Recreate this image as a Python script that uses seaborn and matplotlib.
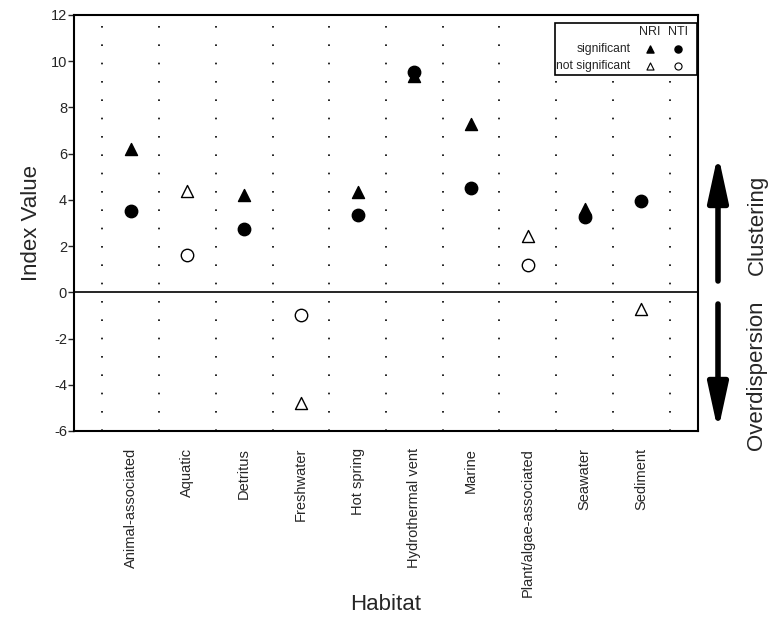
import matplotlib
matplotlib.use("Agg")
import matplotlib.pyplot as plt
import seaborn as sns
import pandas as pd
import numpy as np

habitats = ["Animal-associated", "Aquatic", "Detritus", "Freshwater", "Hot spring",
            "Hydrothermal vent", "Marine", "Plant/algae-associated", "Seawater", "Sediment"]
nri = [6.2, 4.4, 4.2, -4.8, 4.35, 9.35, 7.3, 2.45, 3.6, -0.7]
nri_sig = [True, False, True, False, True, True, True, False, True, False]
nti = [3.5, 1.6, 2.75, -1.0, 3.35, 9.55, 4.5, 1.2, 3.25, 3.95]
nti_sig = [True, False, True, False, True, True, True, False, True, True]

sns.set_style("white")
plt.rcParams['font.family'] = ['Liberation Sans', 'DejaVu Sans']
plt.rcParams['axes.unicode_minus'] = False

rows = []
for i, h in enumerate(habitats):
	rows.append([h, i, "NRI", nri[i], nri_sig[i]])
	rows.append([h, i, "NTI", nti[i], nti_sig[i]])
data = pd.DataFrame(data=rows, columns=["habitat", "pos", "index", "value", "sig"])

fig = plt.figure(figsize=(7.75, 6.24), dpi=100)
ax = fig.add_axes([0.0955, 0.3093, 0.8051, 0.6667])

# dotted separators and zero line
for x in np.arange(-0.5, len(habitats), 1.0):
	ax.axvline(x, color="black", lw=1.2, linestyle=(0, (1, 10)), zorder=1)
ax.axhline(0, color="black", lw=1.2, zorder=1)

markers = {"NRI": "^", "NTI": "o"}
sizes = {"NRI": 75, "NTI": 80}
for idx in ["NRI", "NTI"]:
	for sig in [True, False]:
		sub = data[(data["index"] == idx) & (data["sig"] == sig)]
		sns.scatterplot(data=sub, x="pos", y="value", ax=ax, marker=markers[idx],
			s=sizes[idx], color="black" if sig else "white", edgecolor="black",
			linewidth=1.0, zorder=3, legend=False)

ax.set_xlim(-1, len(habitats))
ax.set_ylim(-6, 12)
ax.set_yticks(range(-6, 13, 2))
ax.set_xticks(range(len(habitats)))
ax.set_xticklabels(habitats, rotation=90, fontsize=10.5)
ax.tick_params(axis="x", length=0, pad=12)
ax.tick_params(axis="y", length=4, width=1, direction="out", left=True, labelsize=10.5, pad=1)
ax.set_xlabel("Habitat", fontsize=16, labelpad=-2)
ax.set_ylabel("Index Value", fontsize=16, labelpad=6)
for sp in ax.spines.values():
	sp.set_color("black")
	sp.set_linewidth(1.5)

# custom legend table
lg = plt.Rectangle((0.771, 0.856), 0.227, 0.125, transform=ax.transAxes,
	facecolor="white", edgecolor="black", lw=1.2, zorder=4)
ax.add_patch(lg)
ax.text(0.923, 0.959, "NRI", transform=ax.transAxes, ha="center", va="center", fontsize=9, zorder=5)
ax.text(0.968, 0.959, "NTI", transform=ax.transAxes, ha="center", va="center", fontsize=9, zorder=5)
ax.text(0.892, 0.918, "significant", transform=ax.transAxes, ha="right", va="center", fontsize=8.7, zorder=5)
ax.text(0.892, 0.877, "not significant", transform=ax.transAxes, ha="right", va="center", fontsize=8.7, zorder=5)
ax.scatter([0.923], [0.918], transform=ax.transAxes, marker="^", s=26, color="black", zorder=5)
ax.scatter([0.968], [0.918], transform=ax.transAxes, marker="o", s=26, color="black", zorder=5)
ax.scatter([0.923], [0.877], transform=ax.transAxes, marker="^", s=26, facecolor="white", edgecolor="black", lw=0.8, zorder=5)
ax.scatter([0.968], [0.877], transform=ax.transAxes, marker="o", s=26, facecolor="white", edgecolor="black", lw=0.8, zorder=5)

# clustering / overdispersion arrows
arrow_kw = dict(arrowstyle="-|>,head_length=2.3,head_width=0.5", color="black", lw=4)
fig.patches.append(matplotlib.patches.FancyArrowPatch((718 / 775, 1 - 281 / 624), (718 / 775, 1 - 154 / 624),
	transform=fig.transFigure, mutation_scale=12, shrinkA=0, shrinkB=0, **arrow_kw))
fig.patches.append(matplotlib.patches.FancyArrowPatch((718 / 775, 1 - 304 / 624), (718 / 775, 1 - 431 / 624),
	transform=fig.transFigure, mutation_scale=12, shrinkA=0, shrinkB=0, **arrow_kw))
fig.text(757 / 775, 1 - 225 / 624, "Clustering", rotation=90, ha="center", va="center", fontsize=16)
fig.text(757 / 775, 1 - 375 / 624, "Overdispersion", rotation=90, ha="center", va="center", fontsize=16)

fig.savefig("out.png", dpi=100)
